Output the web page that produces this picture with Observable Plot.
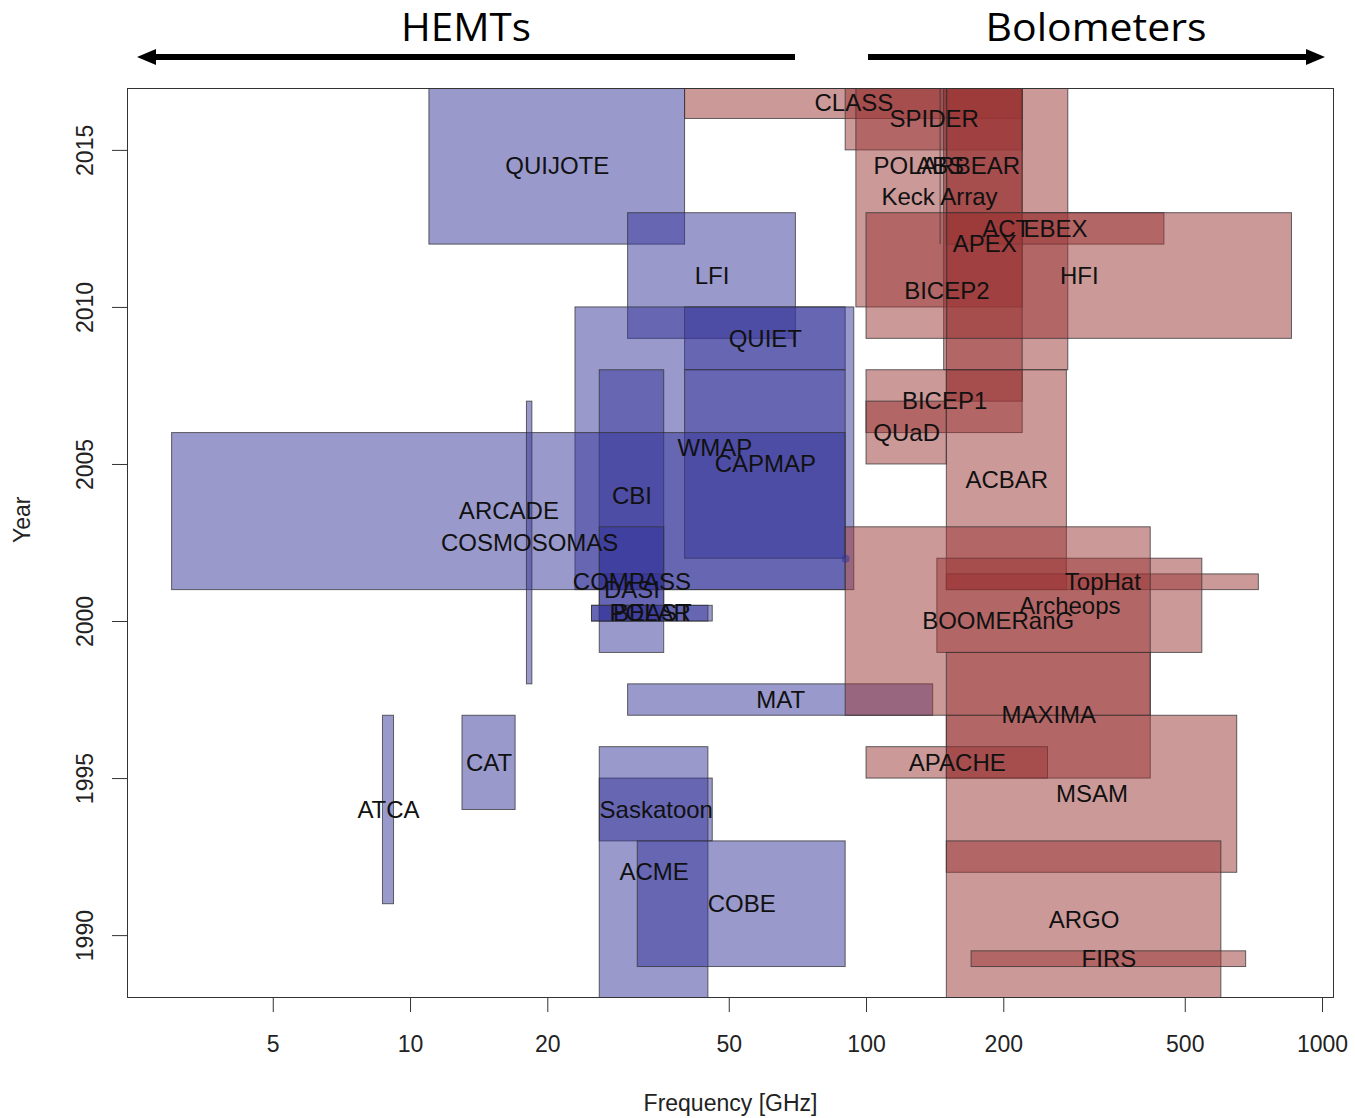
<!DOCTYPE html>
<html><head><meta charset="utf-8">
<script src="https://cdn.jsdelivr.net/npm/d3@7"></script>
<script src="https://cdn.jsdelivr.net/npm/@observablehq/plot@0.6"></script>
<style>
body{margin:0;background:#fff;}
#wrap{position:relative;width:1355px;height:1118px;overflow:hidden;}
#header{position:absolute;left:0;top:0;}
#chart{position:absolute;left:0;top:80px;}
</style></head><body>
<div id="wrap">
<svg id="header" width="1355" height="80">
  <text x="466" y="41" text-anchor="middle" font-family="'Open Sans', sans-serif" font-size="39" textLength="130" lengthAdjust="spacingAndGlyphs">HEMTs</text>
  <text x="1096" y="41" text-anchor="middle" font-family="'Open Sans', sans-serif" font-size="39" textLength="221" lengthAdjust="spacingAndGlyphs">Bolometers</text>
  <line x1="152" y1="57" x2="795" y2="57" stroke="#000" stroke-width="6"/>
  <polygon points="137,57 156,49 156,65" fill="#000"/>
  <line x1="868" y1="57" x2="1308" y2="57" stroke="#000" stroke-width="6"/>
  <polygon points="1325,57 1306,49 1306,65" fill="#000"/>
</svg>
<div id="chart"></div>
</div>
<script>
// ---- data ----
const experiments = ["QUIJOTE","LFI","QUIET","WMAP","CAPMAP","CBI","ARCADE","COSMOSOMAS","COMPASS","DASI","BEAST","POLAR","MAT","CAT","ATCA","Saskatoon","ACME","COBE",
  "CLASS","SPIDER","ABS","POLARBEAR","Keck Array","ACT","EBEX","APEX","HFI","BICEP2","BICEP1","QUaD","ACBAR","TopHat","Archeops","BOOMERanG","MAXIMA","APACHE","MSAM","ARGO","FIRS"];
const freqLow  = [11,30,40,23,40,26,3,18,26,26,25,25,30,13,8.7,26,26,31.5,
  40,90,145,150,95,148,150,150,100,150,100,100,150,150,143,90,150,100,150,150,170];
const freqHigh = [40,70,90,94,90,36,90,18.5,36,36,46,45,140,17,9.2,46,45,90,
  220,220,145,150,220,277,450,220,857,150,220,150,275,725,545,420,420,250,650,600,680];
const yearStart = [2012,2009,2008,2001,2002,2000,2001,1998,2001,1999,2000,2000,1997,1994,1991,1993,1988,1989,
  2016,2015,2012,2012,2010,2008,2012,2007,2009,2009,2006,2005,2001,2001,1999,1997,1995,1995,1992,1988,1989];
const yearEnd = [2017,2013,2010,2010,2008,2008,2006,2007,2001.5,2003,2000.5,2000.5,1998,1997,1997,1995,1996,1993,
  2017,2017,2017,2017,2017,2017,2013,2017,2013,2012,2008,2007,2008,2001.5,2002,2003,1999,1996,1997,1993,1989.5];
const detector = ["HEMT","HEMT","HEMT","HEMT","HEMT","HEMT","HEMT","HEMT","HEMT","HEMT","HEMT","HEMT","HEMT","HEMT","HEMT","HEMT","HEMT","HEMT",
  "Bolometer","Bolometer","Bolometer","Bolometer","Bolometer","Bolometer","Bolometer","Bolometer","Bolometer","Bolometer","Bolometer","Bolometer","Bolometer","Bolometer","Bolometer","Bolometer","Bolometer","Bolometer","Bolometer","Bolometer","Bolometer"];
const dotFreq = [90];
const dotYear = [2002];
const freqTicks = [5,10,20,50,100,200,500,1000];
const yearTicks = [1990,1995,2000,2005,2010,2015];

// ---- build ----
const rows = experiments.map((name,i)=>({name, f1:freqLow[i], f2:freqHigh[i], y1:yearStart[i], y2:yearEnd[i], det:detector[i]}));
const boxes = rows.filter(d=>d.f2>d.f1);
const lines = rows.filter(d=>d.f2===d.f1);
const dots = dotFreq.map((f,i)=>({f, y:dotYear[i]}));
const colorOf = d => d.det==="HEMT" ? "#333399" : "#993333";

const chart = Plot.plot({
  width:1355, height:1038,
  marginLeft:127, marginRight:22, marginTop:8, marginBottom:121,
  style:{fontFamily:"'Liberation Sans', Arial, sans-serif", fontSize:"23px", color:"#222", background:"#fff", overflow:"visible"},
  x:{type:"log", domain:[2.395,1057]},
  y:{domain:[1988.03,2016.97]},
  color:{type:"identity"},
  marks:[
    Plot.rect(boxes,{x1:"f1",x2:"f2",y1:"y1",y2:"y2", fill:colorOf, fillOpacity:0.5, stroke:"#333", strokeWidth:1, strokeOpacity:0.75, clip:true}),
    Plot.ruleX(lines,{x:"f1", y1:"y1", y2:"y2", stroke:"#333", strokeOpacity:0.75, clip:true}),
    Plot.dot(dots,{x:"f", y:"y", r:4, fill:"#333399", fillOpacity:0.5}),
    Plot.text(rows,{x:d=>Math.sqrt(d.f1*d.f2), y:d=>(d.y1+d.y2)/2, text:"name", fontSize:24, fill:"#111"}),
    Plot.frame({stroke:"#333"}),
    Plot.axisX(freqTicks,{tickSize:15, tickPadding:23, tickFormat:d=>String(d), label:null, stroke:"#333"}),
    Plot.axisY(yearTicks,{tickSize:15, tickPadding:20, tickRotate:-90, tickFormat:d=>String(d), label:null, stroke:"#333"}),
    Plot.text(["Frequency [GHz]"],{frameAnchor:"bottom", dy:113, text:d=>d, fontSize:23, fill:"#222"}),
    Plot.text(["Year"],{frameAnchor:"left", dx:-105, rotate:-90, text:d=>d, fontSize:23, fill:"#222"})
  ]
});
document.getElementById("chart").appendChild(chart);
</script>
</body></html>
